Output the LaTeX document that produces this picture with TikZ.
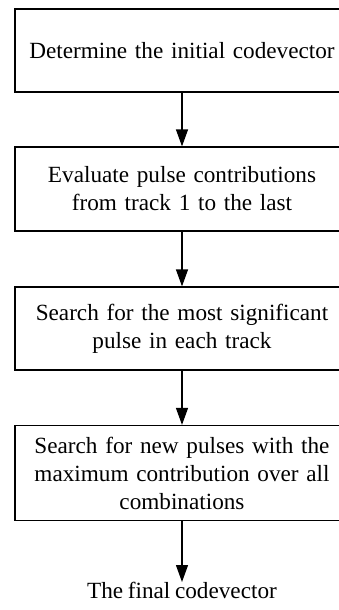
\documentclass[tikz,border=0pt]{standalone}
\usepackage{fontspec}
\setmainfont{Liberation Serif}
\usetikzlibrary{arrows.meta}
\newcommand{\stepsize}{\fontsize{23.2}{28}\selectfont\spaceskip=0.2em plus 0.05em\relax}

\begin{document}
\begin{tikzpicture}[x=1pt, y=-1pt,
	stepfont/.style = {font = \stepsize},
	stepbox/.style = {stepfont, draw = black, line width = 1.2pt, minimum width = 334pt, inner sep = 0pt, text width = 330pt, align = center},
	flow/.style = {line width = 1.2pt, -{Triangle[length = 17pt, width = 12pt]}}]
	\useasboundingbox (0,0) rectangle (339,610);
	\node[stepbox, minimum height = 83pt] (init) at (182,50.5) {Determine the initial codevector};
	\node[stepbox, minimum height = 84pt] (eval) at (182,189) {Evaluate pulse contributions\\from track 1 to the last};
	\node[stepbox, minimum height = 83pt] (search) at (182,328.5) {Search for the most significant\\pulse in each track};
	\node[stepbox, minimum height = 95pt] (newp) at (182,473) {Search for new pulses with the\\maximum contribution over all\\combinations};
	\node[stepfont, anchor = north, inner sep = 0pt] (final) at (182,582) {The final codevector};
	\draw[flow] (init) -- (eval);
	\draw[flow] (eval) -- (search);
	\draw[flow] (search) -- (newp);
	\draw[flow] (newp) -- (final);
\end{tikzpicture}
\end{document}
